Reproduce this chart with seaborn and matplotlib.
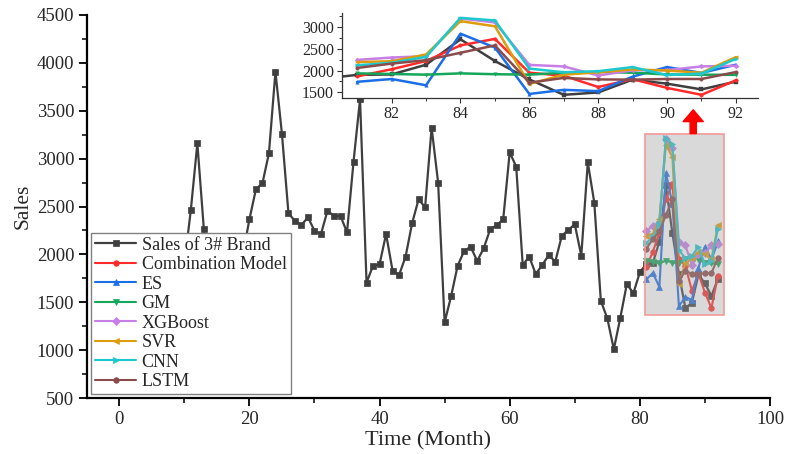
import matplotlib
matplotlib.use('Agg')
import matplotlib.pyplot as plt
import seaborn as sns
from matplotlib.patches import Rectangle
from matplotlib.ticker import MultipleLocator

# ---------------- data ----------------
months_actual = list(range(1, 93))
sales = [1850, 1650, 1900, 1750, 2000, 1800, 1700, 1950, 2050, 1900,
         2464, 3160, 2262, 1750, 1900, 2050, 1950, 1850, 2000, 2366,
         2680, 2742, 3056, 3908, 3257, 2429, 2349, 2307, 2387, 2247,
         2213, 2456, 2401, 2401, 2230, 2968, 3620, 1705, 1882, 1896,
         2213, 1830, 1785, 1976, 2325, 2575, 2492, 3323, 2749, 1290,
         1565, 1882, 2035, 2080, 1931, 2063, 2262, 2304, 2366, 3066,
         2916, 1889, 1976, 1795, 1889, 1993, 1924, 2192, 2255, 2314,
         1986, 2961, 2540, 1516, 1332, 1009, 1339, 1691, 1594, 1813,
         1900, 1910, 2134, 2720, 2220, 1795, 1440, 1495, 1790, 1697,
         1565, 1745]

forecast_months = list(range(81, 93))
combination = [1865, 2030, 2220, 2580, 2730, 1950, 1880, 1620, 1800, 1600, 1440, 1775]
es = [1740, 1805, 1660, 2850, 2530, 1460, 1555, 1525, 1860, 2080, 1945, 2135]
gm = [1935, 1920, 1905, 1935, 1915, 1905, 1950, 1965, 1950, 1910, 1905, 1900]
xgboost = [2245, 2300, 2330, 3200, 3110, 2130, 2095, 1885, 2005, 2010, 2095, 2110]
svr = [2195, 2215, 2370, 3140, 3020, 1690, 1905, 1960, 2025, 2000, 1950, 2310]
cnn = [2120, 2180, 2315, 3215, 3155, 2045, 1960, 1985, 2080, 1895, 1930, 2270]
lstm = [2060, 2160, 2240, 2410, 2580, 1720, 1830, 1795, 1790, 1805, 1805, 1965]

labels = ['Sales of 3# Brand', 'Combination Model', 'ES', 'GM', 'XGBoost', 'SVR', 'CNN', 'LSTM']

# ---------------- style ----------------
sns.set_style('ticks')
plt.rcParams['font.family'] = ['Liberation Serif', 'DejaVu Serif']

actual_color = '#3f3f3f'
fc_series = [
    (labels[1], combination, '#ff2b2b', 'o'),
    (labels[2], es, '#1b6ee6', '^'),
    (labels[3], gm, '#14a65a', 'v'),
    (labels[4], xgboost, '#c77fe6', 'D'),
    (labels[5], svr, '#dc9c0c', '<'),
    (labels[6], cnn, '#1cc9cf', '>'),
    (labels[7], lstm, '#8b4b4b', 'o'),
]

fig = plt.figure(figsize=(7.87, 4.54), dpi=100)
ax = fig.add_axes([0.1102, 0.1233, 0.8682, 0.8437])

sns.lineplot(x=months_actual, y=sales, ax=ax, color=actual_color, marker='s',
             markersize=5, linewidth=1.6, markeredgecolor=actual_color,
             markeredgewidth=0.5, label=labels[0])
for lab, vals, col, mk in fc_series:
    ms = 4 if mk in ('o', 'D') else 5
    sns.lineplot(x=forecast_months, y=vals, ax=ax, color=col, marker=mk,
                 markersize=ms, linewidth=1.5, markeredgecolor=col,
                 markeredgewidth=0.5, label=lab)

# gray highlight box
box_x0, box_x1, box_y0, box_y1 = 80.8, 92.9, 1367, 3257
ax.add_patch(Rectangle((box_x0, box_y0), box_x1 - box_x0, box_y1 - box_y0,
                       facecolor='#a0a0a0', alpha=0.4, edgecolor='none', zorder=5))
ax.add_patch(Rectangle((box_x0, box_y0), box_x1 - box_x0, box_y1 - box_y0,
                       facecolor='none', edgecolor='#f49a9a', linewidth=1.2, zorder=6))

# arrow
ax.annotate('', xy=(88.2, 3510), xytext=(88.2, 3262),
            arrowprops=dict(arrowstyle='simple,head_length=0.85,head_width=1.45,tail_width=0.45',
                            color='#ff0000', mutation_scale=10, shrinkA=0, shrinkB=0),
            zorder=7)

ax.set_xlim(-5, 100)
ax.set_ylim(500, 4500)
ax.xaxis.set_major_locator(MultipleLocator(20))
ax.xaxis.set_minor_locator(MultipleLocator(10))
ax.yaxis.set_major_locator(MultipleLocator(500))
ax.yaxis.set_minor_locator(MultipleLocator(250))
for s in ('top', 'right'):
    ax.spines[s].set_visible(False)
for s in ('left', 'bottom'):
    ax.spines[s].set_linewidth(1.6)
    ax.spines[s].set_color('black')
ax.tick_params(which='major', direction='out', length=6, width=1.3, labelsize=13.5,
               color='black', pad=3)
ax.tick_params(which='minor', direction='out', length=3.5, width=1.1, color='black')
ax.set_xlabel('Time (Month)', fontsize=16, labelpad=3)
ax.set_ylabel('Sales', fontsize=15.5, labelpad=3)

leg = ax.legend(loc='lower left', bbox_to_anchor=(0.006, 0.01), frameon=True, fancybox=False,
                edgecolor='#808080', fontsize=13, handlelength=2.3, handletextpad=0.3,
                labelspacing=0.14, borderpad=0.22, borderaxespad=0, framealpha=1)
leg.get_frame().set_linewidth(1.0)
leg.set_zorder(10)

# ---------------- inset ----------------
axin = fig.add_axes([0.4342, 0.7835, 0.5293, 0.1872])
axin.set_facecolor('white')
sns.lineplot(x=months_actual, y=sales, ax=axin, color=actual_color, marker='s',
             markersize=2.5, linewidth=1.8, markeredgecolor=actual_color,
             markeredgewidth=0.3, legend=False)
for lab, vals, col, mk in fc_series:
    sns.lineplot(x=forecast_months, y=vals, ax=axin, color=col, marker=mk,
                 markersize=2.5, linewidth=1.8, markeredgecolor=col,
                 markeredgewidth=0.3, legend=False)
axin.set_xlim(80.55, 92.65)
axin.set_ylim(1360, 3320)
axin.xaxis.set_major_locator(MultipleLocator(2))
axin.xaxis.set_minor_locator(MultipleLocator(1))
axin.yaxis.set_major_locator(MultipleLocator(500))
axin.yaxis.set_minor_locator(MultipleLocator(250))
for s in ('top', 'right'):
    axin.spines[s].set_visible(False)
for s in ('left', 'bottom'):
    axin.spines[s].set_linewidth(0.9)
    axin.spines[s].set_color('#333333')
axin.tick_params(which='major', direction='out', length=3.5, width=0.8, labelsize=11.5,
                 color='#333333', pad=2)
axin.tick_params(which='minor', direction='out', length=2, width=0.7, color='#333333')
axin.set_xlabel('')
axin.set_ylabel('')

fig.savefig('out.png', dpi=100)
